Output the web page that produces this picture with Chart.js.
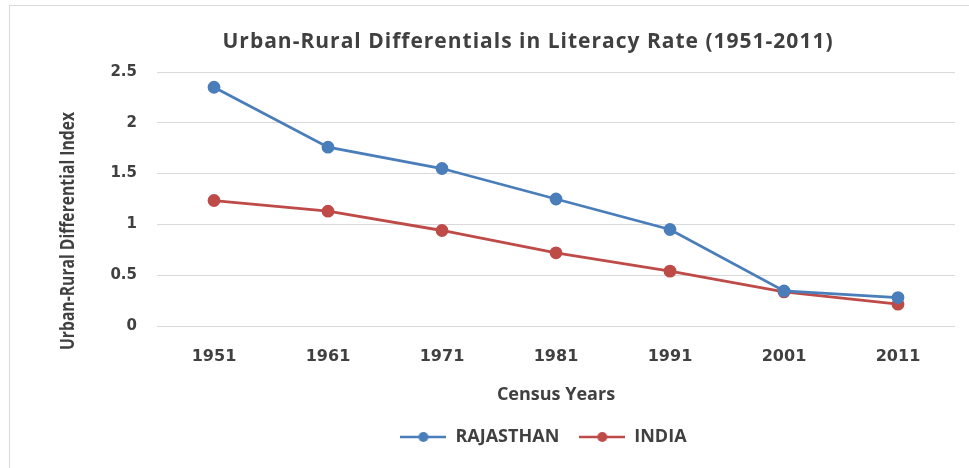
<!DOCTYPE html>
<html>
<head>
<meta charset="utf-8">
<script src="https://cdn.jsdelivr.net/npm/chart.js@4"></script>
<style>
  html, body { margin: 0; padding: 0; background: #fff; }
  #wrap { position: relative; width: 969px; height: 468px; }
</style>
</head>
<body>
<div id="wrap"><canvas id="myChart" width="969" height="468"></canvas></div>
<script>
// census years
const anos = ['1951', '1961', '1971', '1981', '1991', '2001', '2011'];
// urban-rural differential index
const rajasthan = [2.35, 1.76, 1.55, 1.25, 0.95, 0.345, 0.28];
const india = [1.235, 1.13, 0.94, 0.72, 0.54, 0.335, 0.215];

const titulo = 'Urban-Rural Differentials in Literacy Rate (1951-2011)';
const tituloY = 'Urban-Rural Differential Index';
const tituloX = 'Census Years';

const azul = '#4A7EBB';
const vermelho = '#BE4B48';
const texto = '#404040';

// legend marker: line with a circle in the middle
function marcador(cor) {
  const c = document.createElement('canvas');
  c.width = 46;
  c.height = 12;
  const g = c.getContext('2d');
  g.strokeStyle = cor;
  g.lineWidth = 2.5;
  g.beginPath();
  g.moveTo(0, 6);
  g.lineTo(46, 6);
  g.stroke();
  g.fillStyle = cor;
  g.beginPath();
  g.arc(23, 6, 5, 0, Math.PI * 2);
  g.fill();
  return c;
}

const extras = {
  id: 'extras',
  afterLayout(chart) {
    // legend sits a bit right of the canvas centre, like the original
    chart.legend.left += 66;
    chart.legend.right += 66;
  },
  beforeDraw(chart) {
    const ctx = chart.ctx;
    ctx.save();
    ctx.strokeStyle = '#d9d9d9';
    ctx.lineWidth = 1;
    ctx.strokeRect(9.5, 5.5, 980, 480);
    ctx.restore();
  },
  afterDraw(chart) {
    const ctx = chart.ctx;
    ctx.save();
    ctx.fillStyle = texto;
    ctx.textAlign = 'center';
    ctx.textBaseline = 'middle';
    ctx.font = 'bold 21px "Open Sans"';
    ctx.letterSpacing = '1px';
    ctx.fillText(titulo, 528, 42);
    ctx.letterSpacing = '0px';
    ctx.translate(69, 231);
    ctx.rotate(-Math.PI / 2);
    ctx.font = 'bold 19px "Open Sans"';
    const w = ctx.measureText(tituloY).width;
    ctx.scale(238 / w, 1);
    ctx.fillText(tituloY, 0, 0);
    ctx.restore();
  }
};

const ctx = document.getElementById('myChart');

new Chart(ctx, {
  type: 'line',
  data: {
    labels: anos,
    datasets: [
      {
        label: 'RAJASTHAN',
        data: rajasthan,
        borderColor: azul,
        backgroundColor: azul,
        borderWidth: 2.8,
        pointRadius: 5,
        pointHoverRadius: 5,
        pointBackgroundColor: azul,
        pointBorderColor: azul,
        fill: false,
        tension: 0
      },
      {
        label: 'INDIA',
        data: india,
        borderColor: vermelho,
        backgroundColor: vermelho,
        borderWidth: 2.8,
        pointRadius: 5,
        pointHoverRadius: 5,
        pointBackgroundColor: vermelho,
        pointBorderColor: vermelho,
        fill: false,
        tension: 0
      }
    ]
  },
  options: {
    responsive: false,
    animation: false,
    layout: {
      padding: { top: 72, right: 14, bottom: 12, left: 0 }
    },
    plugins: {
      title: { display: false },
      tooltip: { enabled: false },
      legend: {
        position: 'bottom',
        labels: {
          usePointStyle: true,
          pointStyleWidth: 46,
          padding: 20,
          color: texto,
          font: { family: '"Open Sans"', size: 18, weight: 'bold' },
          generateLabels(chart) {
            const itens = Chart.defaults.plugins.legend.labels.generateLabels(chart);
            itens.forEach((it, i) => {
              it.pointStyle = marcador(i === 0 ? azul : vermelho);
            });
            return itens;
          }
        }
      }
    },
    scales: {
      x: {
        offset: true,
        grid: { display: false, drawTicks: false },
        border: { display: false },
        ticks: {
          padding: 21,
          color: texto,
          font: { family: '"DejaVu Sans"', size: 16, weight: 'bold' }
        },
        title: {
          display: true,
          text: tituloX,
          color: texto,
          padding: { top: 0, bottom: 2 },
          font: { family: '"Open Sans"', size: 18, weight: 'bold' }
        },
        afterFit(scale) { scale.height = 82; }
      },
      y: {
        min: 0,
        max: 2.5,
        grid: { color: '#d9d9d9', lineWidth: 1, drawTicks: false },
        border: { display: false },
        ticks: {
          stepSize: 0.5,
          padding: 20,
          color: texto,
          font: { family: '"DejaVu Sans"', size: 15, weight: 'bold' },
          callback: (v) => String(Number(v.toFixed(1)))
        },
        afterFit(scale) { scale.width = 157; }
      }
    }
  },
  plugins: [extras]
});
</script>
</body>
</html>
